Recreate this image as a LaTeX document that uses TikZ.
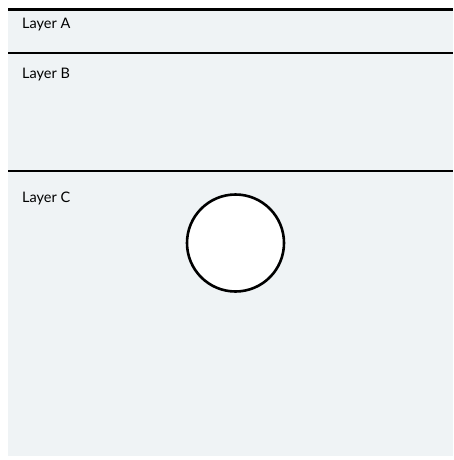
\documentclass[tikz,border=0pt]{standalone}
\usepackage{fontspec}
\setmainfont{Lato}
\usepackage{tikz}
\usetikzlibrary{positioning}
\definecolor{panelbg}{RGB}{239,243,245}

\begin{document}
\begin{tikzpicture}[x=1pt, y=-1pt,
            layerlabel/.style={anchor=west, inner sep=0pt, font=\fontsize{14.5}{16}\selectfont},
            divider/.style={line width=2.6pt, black},
            hole/.style={draw, circle, line width=2.6pt, fill=white, minimum size=97pt, inner sep=0pt}
        ]
        \useasboundingbox (0,0) rectangle (453,460);
        % --- background panel ---
        \fill[panelbg] (8,9) rectangle (453,456);

        % --- layer dividers ---
        \draw[divider] (8,9.5) -- (453,9.5);
        \draw[divider] (8,53) -- (453,53);
        \draw[divider] (8,171) -- (453,171);

        % --- labels ---
        \node[layerlabel] (LA) at (22,25) {Layer A};
        \node[layerlabel] (LB) at (22,75) {Layer B};
        \node[layerlabel] (LC) at (22,198) {Layer C};

        % --- circle in layer C ---
        \node[hole] (C1) at (235.5,243) {};
        \end{tikzpicture}
\end{document}
